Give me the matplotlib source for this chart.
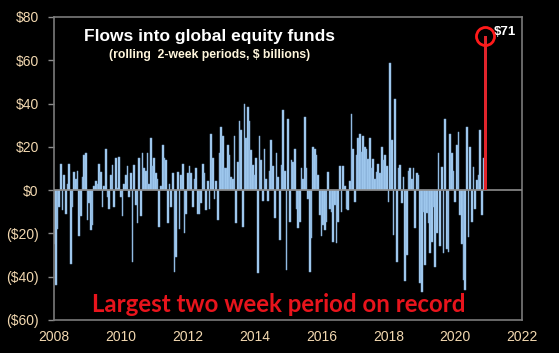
import numpy as np
import matplotlib
matplotlib.use('Agg')
import matplotlib.pyplot as plt
from matplotlib.ticker import FuncFormatter

# rolling 2-week flows, $bn (one value per ~0.05 yr)
start_year = 2008.0
step = 0.05
flows = [
    # 2008
    -25, -44, -18, -8, 12, -9, 7, -11, 3, 12,
    -34, -8, 8.5, 5, 9, -21, -12, 6, 16, 17,
    # 2009
    -14, -6, -18.5, -16, 2, 4, 3, 12, 8.5, -8,
    2, 19, -3, -8.5, 7, 11.5, -8, 15, 1, 15.4,
    # 2010
    -3, -12, 3, 7, 11, -3, 8, -33, 11.5, -7,
    -15, 15, -12, 17, 10, 9, 17, 3, 24, 11,
    # 2011
    15, 8, 5, -17, 2, 21, 15, 14, -15, 3,
    -8, 8, -38, -31, 8.5, -18, 7, 12, -20, -11,
    # 2012
    8, 11, 8, -8, 5, 10, -11, -11, -6, 12,
    8, -9, 4, -8.5, 26, 15, -4, 4, -14, 17,
    # 2013
    29, 25, 10, 10, 21, 16, 6, 5, 25, -15,
    13, 32, 28, -17, 40, 24, 38.5, 32, 18.5, 11.5,
    # 2014
    7, 15, -38.5, 25, 14, -5, 19, 5, -5, 9,
    23, 11, -13, 17, 6, -23, 11.5, 37, 9, -37,
    # 2015
    33, -14.6, 14, 13, 19, -8.5, -17.7, -14.6, 10, 5,
    34, 10, -4, -37.8, -22, 20, 19, 16, 7, -11.5,
    # 2016
    -21, -16, -18.5, -14.6, 8.5, -8.5, -10, -24, -7, -24.6,
    -14.6, 11, -10, 11, 2, -8.5, -9, 4, 35, 19,
    # 2017
    -5.4, 16, 24, 26, 17.7, 25, 20, 19, 14.6, 24,
    10, 14.6, 5, 8.5, 12, 8, 20, 14, 16, 11,
    # 2018
    -5.4, 58.5, 23, -20.8, 42, -33, 10, 11.5, -6, 6,
    -42, -30, 9, 10, 5, 10, -17.7, 7.7, 7, -43,
    # 2019
    -47, -10, -34.7, -10.8, -15.4, -29, -24, -8, -35.4, -20,
    17, -26, 10.8, -29, 33, -27, -28.5, 26, 17, 9,
    # 2020
    -5.4, 21, 27, -11.5, -25, -41.6, -46, 29, -21.6, 20,
    -14.6, 10.8, -8.5, 4.6, 7, 28, -11.5, 15,
]
record_value = 71
record_label = '$71'

years = start_year + np.arange(len(flows)) * step
record_year = start_year + len(flows) * step

tick_col = '#f2d8b0'
plt.rcParams['font.family'] = ['Liberation Sans', 'DejaVu Sans']

fig = plt.figure(figsize=(5.59, 3.53), dpi=100, facecolor='black')
ax = fig.add_axes([0.0966, 0.0935, 0.8374, 0.8585])
ax.set_facecolor('black')

ax.bar(years, flows, width=step, color='#aad4f8', edgecolor='#7aa2cc', linewidth=0.35)
ax.axhline(0, color='#8c8c8c', linewidth=1.2, zorder=3)
ax.bar(record_year, record_value, width=0.08, color='#e0242b', zorder=4)
ax.plot(record_year, record_value, 'o', ms=13, mfc='none', mec='#ff1a1a', mew=2, zorder=5)
ax.annotate(record_label, (record_year, record_value), xytext=(6, 3), textcoords='offset points',
            color='white', fontsize=9.5, fontweight='bold', va='center', ha='left')

ax.set_xlim(2008, 2022)
ax.set_ylim(-60, 80)
ax.set_xticks(range(2008, 2023, 2))
ax.set_yticks(range(-60, 81, 20))
ax.yaxis.set_major_formatter(FuncFormatter(lambda v, p: f'${v:.0f}' if v >= 0 else f'(${-v:.0f})'))
ax.tick_params(axis='y', colors='#8c8c8c', labelcolor=tick_col, labelsize=10, length=4, width=1, pad=7)
ax.tick_params(axis='x', colors='#8c8c8c', labelcolor=tick_col, labelsize=10, length=0, pad=7)
for s in ax.spines.values():
    s.set_color('#7a7a7a')
    s.set_linewidth(1.2)

ax.text(0.333, 0.934, 'Flows into global equity funds', transform=ax.transAxes,
        ha='center', va='center', color='white', fontsize=12.5, fontweight='bold')
ax.text(0.333, 0.876, '(rolling  2-week periods, $ billions)', transform=ax.transAxes,
        ha='center', va='center', color='#fff6dc', fontsize=8.8, fontweight='bold')
ax.text(0.48, 0.028, 'Largest two week period on record', transform=ax.transAxes,
        ha='center', va='baseline', color='#e8141c', fontsize=17.3, fontweight='bold',
        family=['Lato', 'DejaVu Sans'])

fig.savefig('out.png', dpi=100, facecolor='black')
